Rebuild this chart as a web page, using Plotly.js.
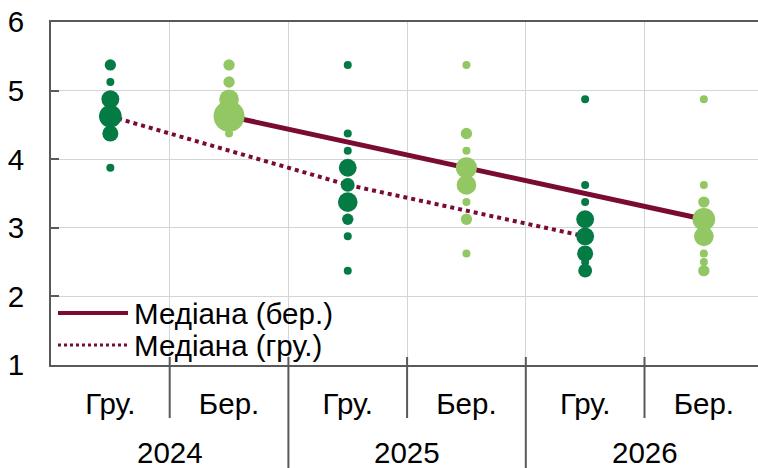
<!DOCTYPE html>
<html><head><meta charset="utf-8">
<script src="https://cdn.plot.ly/plotly-3.0.1.min.js"></script>
<style>html,body{margin:0;padding:0;background:#fff}#chart{width:758px;height:468px}</style>
</head><body><div id="chart"></div>
<script>
// ---- data ----
const periods = ['Гру.', 'Бер.', 'Гру.', 'Бер.', 'Гру.', 'Бер.'];
const years = ['2024', '2025', '2026'];
const yTickVals = [1, 2, 3, 4, 5, 6];

const dotValues = [
  [5.375, 5.125, 4.875, 4.625, 4.375, 3.875],
  [5.375, 5.125, 4.875, 4.625, 4.375],
  [5.375, 4.375, 4.125, 3.875, 3.625, 3.375, 3.125, 2.875, 2.375],
  [5.375, 4.375, 4.125, 3.875, 3.625, 3.375, 3.125, 2.625],
  [4.875, 3.625, 3.375, 3.125, 2.875, 2.625, 2.5, 2.375],
  [4.875, 3.625, 3.375, 3.125, 2.875, 2.625, 2.5, 2.375]
];
const dotCounts = [
  [2, 1, 5, 8, 4, 1],
  [2, 2, 6, 15, 1],
  [1, 1, 1, 5, 3, 6, 2, 1, 1],
  [1, 2, 1, 7, 6, 1, 2, 1],
  [1, 1, 1, 5, 5, 4, 1, 3],
  [1, 1, 2, 8, 6, 1, 1, 2]
];
const medianBer = [4.625, 3.875, 3.125];
const medianGru = [4.625, 3.625, 2.875];
const legendNames = ['Медіана (бер.)', 'Медіана (гру.)'];

// ---- styles ----
const DARK = '#047a45';
const LIGHT = '#93c763';
const MAROON = '#7a0b33';
const AXIS = '#595959';
const GRID = '#d3d6d9';
const FONT = 'Liberation Sans, Arial, sans-serif';
const FS = 29.5;

const colIdx = periods.map((p, i) => i);
function dotsFor(label) {
  const x = [], y = [], s = [];
  colIdx.forEach(i => {
    if (periods[i] !== label) return;
    dotValues[i].forEach((v, k) => { x.push(i); y.push(v); s.push(dotCounts[i][k]); });
  });
  return {x, y, s};
}
const gru = dotsFor('Гру.');
const ber = dotsFor('Бер.');
const gruCols = colIdx.filter(i => periods[i] === 'Гру.');
const berCols = colIdx.filter(i => periods[i] === 'Бер.');

const traces = [
  {x: berCols, y: medianBer, type: 'scatter', mode: 'lines', line: {color: MAROON, width: 5}, showlegend: false, hoverinfo: 'skip'},
  {x: gruCols, y: medianGru, type: 'scatter', mode: 'lines', line: {color: MAROON, width: 4, dash: 'dot'}, showlegend: false, hoverinfo: 'skip'},
  {x: gru.x, y: gru.y, type: 'scatter', mode: 'markers', marker: {color: DARK, opacity: 1, size: gru.s, sizemode: 'area', sizeref: 1/32, line: {width: 0}}, showlegend: false},
  {x: ber.x, y: ber.y, type: 'scatter', mode: 'markers', marker: {color: LIGHT, opacity: 1, size: ber.s, sizemode: 'area', sizeref: 1/32, line: {width: 0}}, showlegend: false}
];

// pixel helpers (plot area: top 22, bottom 365, left 51, width 707)
const PT = 22, PB = 365, PL = 51, PW = 707, PH = PB - PT;
const yp = px => (PB - px) / PH;
const xp = px => (px - PL) / PW;

const shapes = [];
const boundaries = periods.slice(1).map((p, i) => i + 0.5);
boundaries.forEach((b, i) => {
  const yearEdge = (i % 2 === 1);
  shapes.push({type: 'line', xref: 'x', yref: 'paper', x0: b, x1: b, y0: yp(357), y1: yearEdge ? yp(470) : yp(418),
    line: {color: AXIS, width: 2}, layer: 'above'});
});
// legend samples
shapes.push({type: 'line', xref: 'paper', yref: 'paper', x0: xp(58), x1: xp(128), y0: yp(313), y1: yp(313), line: {color: MAROON, width: 4}});
shapes.push({type: 'line', xref: 'paper', yref: 'paper', x0: xp(58), x1: xp(128), y0: yp(345), y1: yp(345), line: {color: MAROON, width: 3, dash: 'dot'}});

const annotations = years.map((yr, i) => ({
  text: yr, xref: 'x', yref: 'paper', x: 2 * i + 0.5, y: yp(452), xanchor: 'center', yanchor: 'middle',
  showarrow: false, font: {family: FONT, size: FS, color: '#000'}
}));
legendNames.forEach((n, i) => annotations.push({
  text: n, xref: 'paper', yref: 'paper', x: xp(132), y: yp(i === 0 ? 313 : 345), xanchor: 'left', yanchor: 'middle',
  showarrow: false, font: {family: FONT, size: FS, color: '#000'}
}));

const layout = {
  width: 758, height: 468,
  margin: {l: PL, r: 0, t: PT, b: 468 - PB},
  paper_bgcolor: '#fff', plot_bgcolor: '#fff',
  showlegend: false,
  font: {family: FONT, size: FS, color: '#000'},
  xaxis: {
    range: [-0.5, -0.5 + PW / 118.7],
    tickvals: colIdx, ticktext: periods, ticks: '', showgrid: false, zeroline: false,
    showline: true, linecolor: AXIS, linewidth: 2, mirror: true,
    ticklabelstandoff: 12,
    tickfont: {family: FONT, size: FS, color: '#000'},
    minor: {tickvals: boundaries, showgrid: true, gridcolor: GRID, gridwidth: 1, ticks: ''}
  },
  yaxis: {
    range: [1, 6], tickvals: yTickVals, ticks: 'inside', ticklen: 8, tickwidth: 2, tickcolor: AXIS,
    showgrid: true, gridcolor: GRID, gridwidth: 1, zeroline: false,
    showline: true, linecolor: AXIS, linewidth: 2,
    ticklabelstandoff: 19,
    tickfont: {family: FONT, size: FS, color: '#000'}
  },
  shapes: shapes,
  annotations: annotations
};

Plotly.newPlot('chart', traces, layout, {displayModeBar: false, staticPlot: true});
</script>
</body></html>
